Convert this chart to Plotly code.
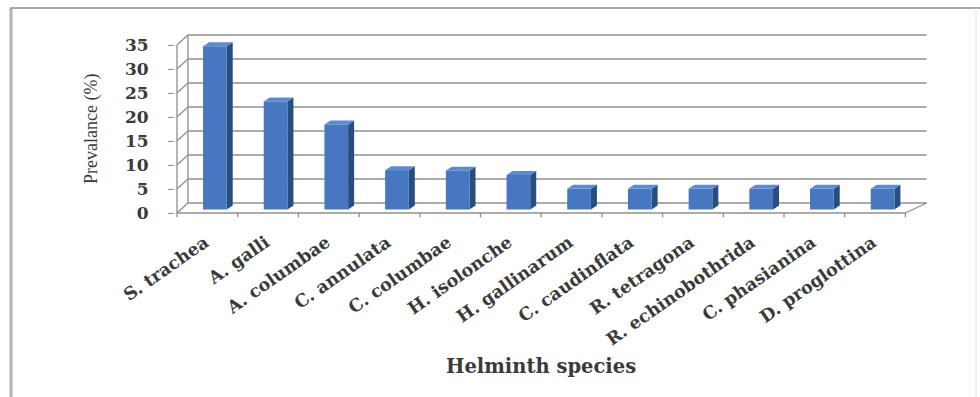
import plotly.graph_objects as go

# Helminth prevalence data
species = ["S. trachea", "A. galli", "A. columbae", "C. annulata", "C. columbae",
           "H. isolonche", "H. gallinarum", "C. caudinflata", "R. tetragona",
           "R. echinobothrida", "C. phasianina", "D. proglottina"]
prevalence = [34.0, 22.5, 17.7, 8.2, 8.1, 7.2, 4.3, 4.3, 4.3, 4.3, 4.3, 4.3]
y_ticks = [0, 5, 10, 15, 20, 25, 30, 35]

W, H = 980, 397
ML, MR, MT, MB = 175, 40, 25, 178
PX_CAT = 60.7          # pixels per category
PX_UNIT = 4.8          # pixels per percent
plot_w = W - ML - MR
plot_h = H - MT - MB
x_lo = -0.5 - 2 / PX_CAT
x_hi = x_lo + plot_w / PX_CAT
y_hi = 188 / PX_UNIT
y_lo = y_hi - plot_h / PX_UNIT

n = len(species)
idx = list(range(n))

# pseudo-3D geometry (in axis units)
WALL_DX_L, WALL_DX_R, WALL_DY = 0.18, 0.35, 10 / PX_UNIT
BAR_SHIFT, BAR_BASE, BAR_W = 0.124, 0.73, 0.39
DEPTH_DX, DEPTH_DY = 0.099, 0.83
y_top = y_ticks[-1]
x0f, x1f = -0.5, n - 0.5

GRID = "#8f8f8f"
FRONT = "#4677C0"
SIDE = "#284D80"
TOP = "#5C8BD0"

shapes = []

def line(xa, ya, xb, yb, color=GRID, width=1.3):
    shapes.append(dict(type="line", xref="x", yref="y", x0=xa, y0=ya, x1=xb, y1=yb,
                       line=dict(color=color, width=width), layer="below"))

# back wall gridlines and side-wall diagonals
for v in y_ticks:
    line(x0f + WALL_DX_L, v + WALL_DY, x1f + WALL_DX_R, v + WALL_DY)
    line(x0f, v, x0f + WALL_DX_L, v + WALL_DY)
# front vertical axis and floor edges
line(x0f, 0, x0f, y_top)
line(x0f, 0, x1f, 0)
line(x1f, 0, x1f + WALL_DX_R, WALL_DY)
line(x0f + WALL_DX_L, WALL_DY, x0f + WALL_DX_L, y_top + WALL_DY)
# category boundary ticks along the floor edge
for k in range(n + 1):
    line(k - 0.5, 0, k - 0.5, -0.9)

# side and top faces of the columns
for i, v in zip(idx, prevalence):
    xl = i + BAR_SHIFT - BAR_W / 2
    xr = i + BAR_SHIFT + BAR_W / 2
    b, t = BAR_BASE, BAR_BASE + v
    side = (f"M{xr},{b} L{xr + DEPTH_DX},{b + DEPTH_DY} "
            f"L{xr + DEPTH_DX},{t + DEPTH_DY} L{xr},{t} Z")
    top = (f"M{xl},{t} L{xr},{t} L{xr + DEPTH_DX},{t + DEPTH_DY} "
           f"L{xl + DEPTH_DX},{t + DEPTH_DY} Z")
    shapes.append(dict(type="path", xref="x", yref="y", path=side,
                       fillcolor=SIDE, line=dict(width=0), layer="below"))
    shapes.append(dict(type="path", xref="x", yref="y", path=top,
                       fillcolor=TOP, line=dict(width=0), layer="below"))

# outer chart frame
def px_x(p):
    return (p - ML) / plot_w

def px_y(p):
    return (H - MB - p) / plot_h

shapes.append(dict(type="line", xref="paper", yref="paper", x0=px_x(11), x1=px_x(11),
                   y0=px_y(8), y1=px_y(H + 5), line=dict(color="#b4b4b4", width=3)))
shapes.append(dict(type="line", xref="paper", yref="paper", x0=px_x(10), x1=px_x(W + 5),
                   y0=px_y(8), y1=px_y(8), line=dict(color="#a8a8a8", width=2)))
shapes.append(dict(type="line", xref="paper", yref="paper", x0=px_x(976), x1=px_x(976),
                   y0=px_y(8), y1=px_y(H + 5), line=dict(color="#e4e4e4", width=1)))

fig = go.Figure(go.Bar(
    x=[i + BAR_SHIFT for i in idx], y=prevalence, base=BAR_BASE, width=BAR_W,
    marker=dict(color=FRONT, line=dict(width=0)), hoverinfo="skip",
))

TXT = "#3a3a3a"
fig.update_layout(
    width=W, height=H,
    margin=dict(l=ML, r=MR, t=MT, b=MB),
    paper_bgcolor="white", plot_bgcolor="rgba(0,0,0,0)",
    showlegend=False, shapes=shapes,
    xaxis=dict(range=[x_lo, x_hi], tickvals=[i - 0.04 for i in idx], ticktext=species,
               tickangle=-35, ticks="", ticklabelstandoff=9,
               showgrid=False, zeroline=False, showline=False,
               tickfont=dict(family="DejaVu Serif", size=17.5, color=TXT, weight="bold")),
    yaxis=dict(range=[y_lo, y_hi], tickvals=y_ticks, ticks="outside", ticklen=6,
               tickcolor=GRID, tickwidth=1.3, ticklabelstandoff=16,
               showgrid=False, zeroline=False, showline=False,
               tickfont=dict(family="DejaVu Serif", size=17, color=TXT, weight="bold")),
    annotations=[
        dict(text="Prevalance (%)", xref="paper", yref="y", x=px_x(91), y=y_top / 2,
             textangle=-90, showarrow=False, xanchor="center", yanchor="middle",
             font=dict(family="Liberation Serif", size=18, color=TXT)),
        dict(text="Helminth species", xref="x", yref="paper", x=(n - 1) / 2,
             y=px_y(366), showarrow=False, xanchor="center", yanchor="middle",
             font=dict(family="DejaVu Serif", size=19.5, color=TXT, weight="bold")),
    ],
)

fig.write_html("out.html")
